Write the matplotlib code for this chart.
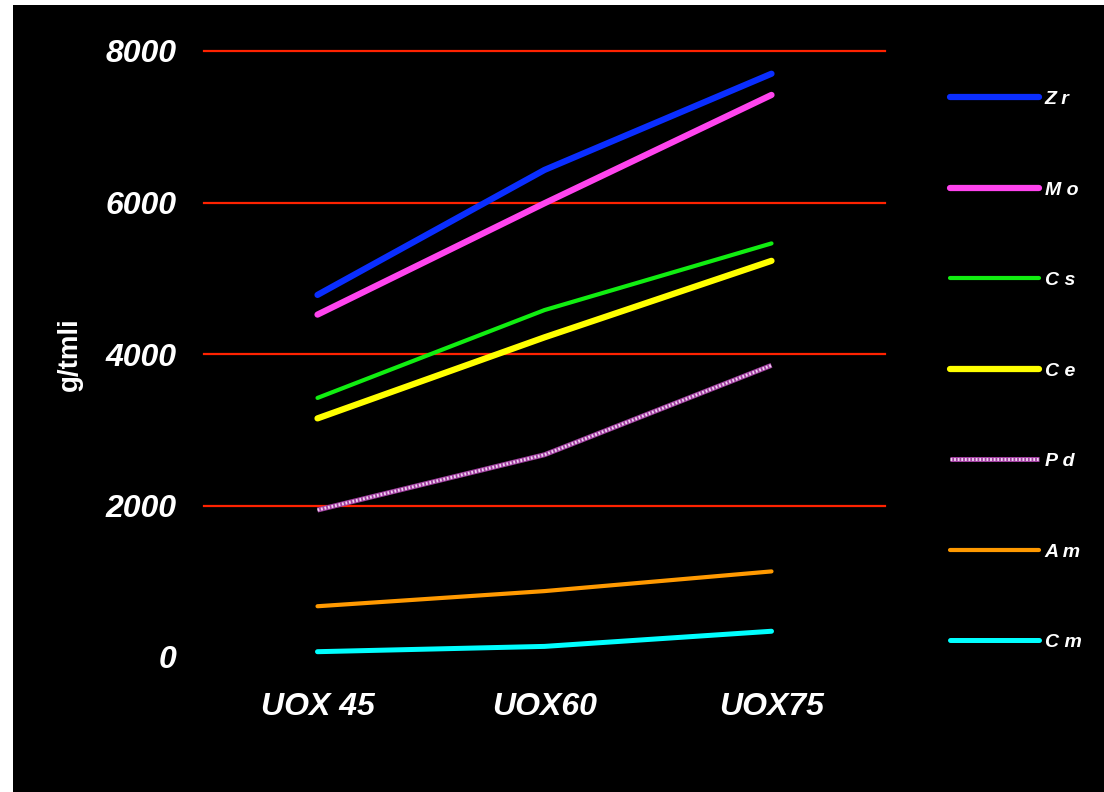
import matplotlib
matplotlib.use("Agg")
import matplotlib.pyplot as plt
import matplotlib.patches as mpatches
from matplotlib.legend_handler import HandlerTuple
import numpy as np

categories = ["UOX 45", "UOX60", "UOX75"]
series_names = ["Z r", "M o", "C s", "C e", "P d", "A m", "C m"]
zr = [4780, 6430, 7700]
mo = [4520, 5990, 7420]
cs = [3420, 4580, 5460]
ce = [3150, 4220, 5230]
pd_ = [1940, 2670, 3850]
am = [670, 870, 1130]
cm = [70, 140, 340]
yticks = [0, 2000, 4000, 6000, 8000]

colors = ["#0a2eff", "#ff44ee", "#11ee11", "#ffff00", "#d99ad9", "#ff9900", "#00ffff"]
widths = [4.5, 4.5, 3.0, 4.5, 3.6, 3.0, 3.6]
data = [zr, mo, cs, ce, pd_, am, cm]

plt.rcParams['font.family'] = ['Liberation Sans', 'DejaVu Sans']

fig = plt.figure(figsize=(11.04, 7.92), dpi=100, facecolor="white")
fig.patches.append(mpatches.Rectangle((13/1104, 0), 1 - 13/1104, 1 - 5/792,
                                      transform=fig.transFigure, facecolor="black",
                                      edgecolor="none", zorder=-10))

# axes: x 204..885, y 8000 at 51px, 0 at 657px
left = 204 / 1104
right = 885 / 1104
y0 = 1 - 657 / 792
y8 = 1 - 51 / 792
ax = fig.add_axes([left, y0, right - left, y8 - y0])
ax.set_facecolor("none")
ax.set_xlim(0, 3)
ax.set_ylim(0, 8000)
x = np.arange(len(categories)) + 0.5

for yv in yticks[1:]:
    ax.axhline(yv, color="#ff2200", lw=1.6, zorder=1, clip_on=False)

handles = []
for name, vals, c, w in zip(series_names, data, colors, widths):
    if name == "P d":
        l, = ax.plot(x, vals, color="#a040a0", lw=w, solid_capstyle="butt", zorder=3)
        l2, = ax.plot(x, vals, color="#f0d0f0", lw=w * 0.6, ls=(0, (0.6, 0.6)), zorder=4)
        handles.append((l, l2))
    else:
        l, = ax.plot(x, vals, color=c, lw=w, solid_capstyle="round", zorder=3)
        handles.append(l)

for s in ax.spines.values():
    s.set_visible(False)
ax.tick_params(length=0, colors="white")
ax.set_xticks(x)
ax.set_xticklabels(categories, fontsize=23, fontweight="bold", fontstyle="italic", color="white")
ax.tick_params(axis="x", pad=25)
ax.set_yticks(yticks)
ax.set_yticklabels([str(v) for v in yticks], fontsize=23, fontweight="bold", fontstyle="italic", color="white")
ax.tick_params(axis="y", pad=20)
ax.set_ylabel("g/tmli", fontsize=20, fontweight="bold", color="white")
ax.yaxis.set_label_coords((83 - 204) / 681, 0.5)

leg = fig.legend(handles=handles, labels=series_names, loc="upper left",
                 bbox_to_anchor=(932/1104, 1 - 73/792),
                 handler_map={tuple: HandlerTuple(ndivide=1, pad=0)},
                 frameon=False, handlelength=4.6, handletextpad=0.3, labelspacing=3.75,
                 prop={"size": 14, "weight": "bold", "style": "italic"})
for t in leg.get_texts():
    t.set_color("white")

fig.savefig("out.png", dpi=100, facecolor="white")
